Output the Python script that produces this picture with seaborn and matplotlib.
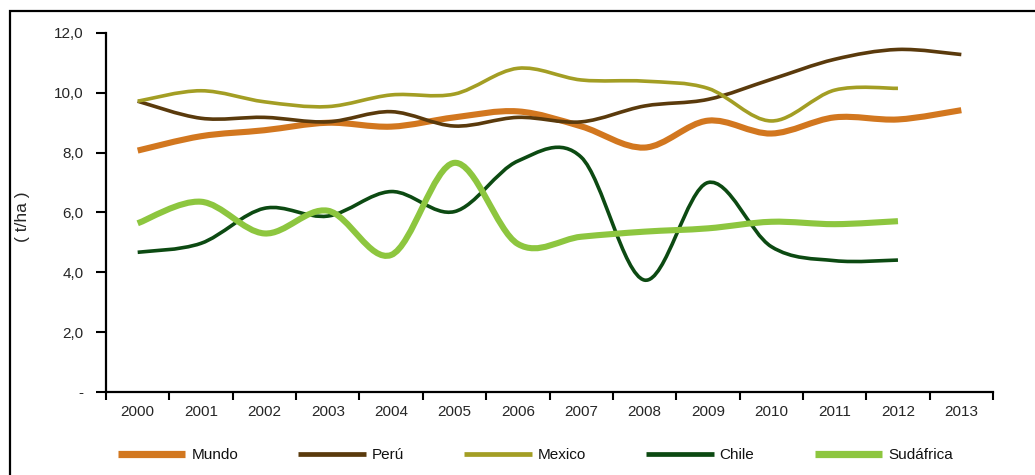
import numpy as np
import pandas as pd
import matplotlib
matplotlib.use("Agg")
import matplotlib.pyplot as plt
from matplotlib.path import Path
from matplotlib.patches import PathPatch, Rectangle
from matplotlib.lines import Line2D
import seaborn as sns

# Rendimiento (t/ha) por año
years = [2000, 2001, 2002, 2003, 2004, 2005, 2006, 2007, 2008, 2009, 2010, 2011, 2012, 2013]
mundo = [8.07, 8.55, 8.75, 9.00, 8.87, 9.18, 9.38, 8.88, 8.17, 9.07, 8.64, 9.18, 9.11, 9.42]
peru = [9.72, 9.15, 9.18, 9.03, 9.37, 8.89, 9.18, 9.03, 9.56, 9.78, 10.45, 11.12, 11.45, 11.28]
mexico = [9.72, 10.07, 9.70, 9.54, 9.93, 9.96, 10.82, 10.43, 10.39, 10.15, 9.06, 10.09, 10.15, np.nan]
chile = [4.67, 4.97, 6.14, 5.88, 6.70, 6.03, 7.72, 7.85, 3.74, 7.00, 4.86, 4.39, 4.41, np.nan]
sudafrica = [5.64, 6.36, 5.30, 6.06, 4.58, 7.66, 4.95, 5.19, 5.36, 5.47, 5.69, 5.61, 5.71, np.nan]

series_names = ["Mundo", "Perú", "Mexico", "Chile", "Sudáfrica"]
series_values = [mundo, peru, mexico, chile, sudafrica]
colors = ["#D2771F", "#5A3A0C", "#A39E24", "#0C4A12", "#8DC63F"]
widths = [4.4, 2.6, 2.6, 2.6, 4.4]
y_ticks = [0, 2, 4, 6, 8, 10, 12]
y_tick_labels = ["-", "2,0", "4,0", "6,0", "8,0", "10,0", "12,0"]

sns.set_theme(style="white")
plt.rcParams["font.family"] = ["Liberation Sans", "DejaVu Sans"]
plt.rcParams["text.color"] = "#111111"
FS = 11

rows = []
for name, vals in zip(series_names, series_values):
    for i, (yr, v) in enumerate(zip(years, vals)):
        if not np.isnan(v):
            rows.append({"pos": i, "year": yr, "serie": name, "valor": v})
df = pd.DataFrame(rows)

fig = plt.figure(figsize=(10.35, 4.75), dpi=100)
ax = fig.add_axes([106 / 1035, 1 - 392 / 475, 887 / 1035, 359 / 475])

sns.lineplot(data=df, x="pos", y="valor", hue="serie", hue_order=series_names,
             palette=colors, ax=ax, legend=False, sort=True)


def smooth_path(xs, ys):
    """Curva suavizada tipo Catmull-Rom a través de los puntos."""
    pts = np.column_stack([xs, ys])
    n = len(pts)
    verts = [pts[0]]
    codes = [Path.MOVETO]
    for i in range(n - 1):
        p_prev = pts[i - 1] if i > 0 else pts[i]
        p0 = pts[i]
        p1 = pts[i + 1]
        p_next = pts[i + 2] if i + 2 < n else pts[i + 1]
        c1 = p0 + (p1 - p_prev) / 6.0
        c2 = p1 - (p_next - p0) / 6.0
        verts += [c1, c2, p1]
        codes += [Path.CURVE4] * 3
    return Path(verts, codes)


# Reemplaza los segmentos rectos por curvas suavizadas
for line, col, lw in zip(ax.get_lines(), colors, widths):
    xs, ys = line.get_xdata(), line.get_ydata()
    line.set_visible(False)
    patch = PathPatch(smooth_path(np.asarray(xs, float), np.asarray(ys, float)),
                      facecolor="none", edgecolor=col, linewidth=lw,
                      capstyle="butt", joinstyle="round", transform=ax.transData)
    ax.add_patch(patch)

ax.set_xlim(-0.5, 13.5)
ax.set_ylim(0, 12)

# Eje X: marcas entre categorías, etiquetas centradas
ax.set_xticks(np.arange(-0.5, 14, 1.0))
ax.set_xticklabels([])
ax.set_xticks(np.arange(0, 14), minor=True)
ax.set_xticklabels([str(y) for y in years], minor=True, fontsize=FS)
ax.tick_params(axis="x", which="major", direction="out", length=6, width=1.5,
               color="black", bottom=True)
ax.tick_params(axis="x", which="minor", length=0, pad=9)

ax.set_yticks(y_ticks)
ax.set_yticklabels(y_tick_labels, fontsize=FS)
ax.tick_params(axis="y", direction="out", length=7, width=1.5, color="black",
               left=True, pad=9)

ax.set_xlabel("")
ax.set_ylabel("( t/ha )", fontsize=12.5)
ax.yaxis.set_label_coords((30 - 106) / 887, (392 - 217) / 359)

for side in ["top", "right"]:
    ax.spines[side].set_visible(False)
for side in ["left", "bottom"]:
    ax.spines[side].set_color("black")
    ax.spines[side].set_linewidth(1.6)
ax.grid(False)

# Leyenda inferior
handles = [Line2D([0], [0], color=c, lw=w + 0.8, solid_capstyle="butt")
           for c, w in zip(colors, widths)]
fig.legend(handles, series_names, loc="center left",
           bbox_to_anchor=(118 / 1035, 1 - 455 / 475), ncol=5, frameon=False,
           fontsize=FS, handlelength=4.4, handletextpad=0.4,
           columnspacing=3.95, borderpad=0, borderaxespad=0)

# Marco exterior
fig.patches.append(Rectangle((10 / 1035, -0.05), 1.1, 1 - 11 / 475 + 0.05,
                             transform=fig.transFigure, fill=False,
                             edgecolor="black", linewidth=1.6))

fig.savefig("out.png", dpi=100)
